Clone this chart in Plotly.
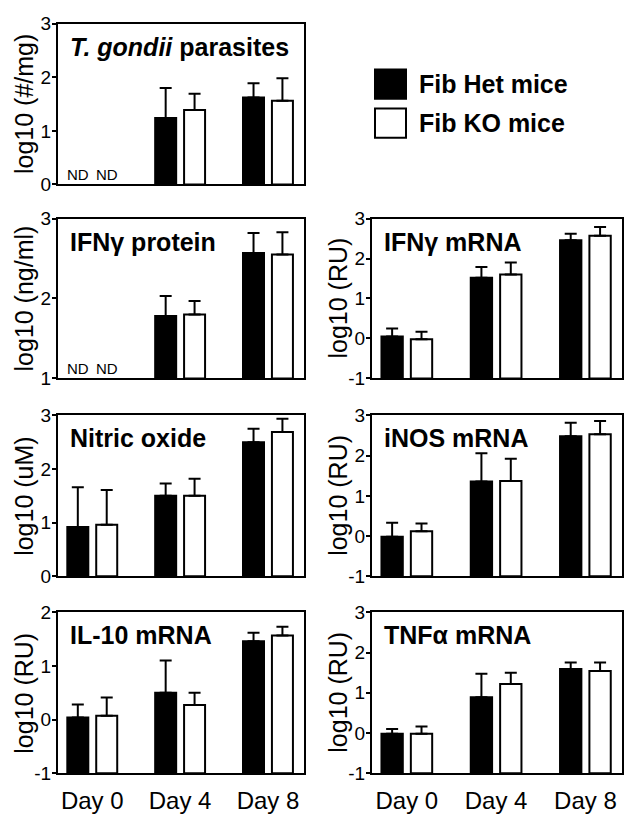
import plotly.graph_objects as go
from plotly.subplots import make_subplots

days = ["Day 0", "Day 4", "Day 8"]
groups = ["Fib Het mice", "Fib KO mice"]

# log10 means and upper error (SD); None = not detected (ND)
parasites_het = [None, 1.24, 1.62]
parasites_het_err = [None, 0.56, 0.27]
parasites_ko = [None, 1.39, 1.56]
parasites_ko_err = [None, 0.30, 0.42]

ifng_prot_het = [None, 1.78, 2.57]
ifng_prot_het_err = [None, 0.25, 0.25]
ifng_prot_ko = [None, 1.80, 2.55]
ifng_prot_ko_err = [None, 0.17, 0.28]

ifng_mrna_het = [0.05, 1.52, 2.46]
ifng_mrna_het_err = [0.20, 0.27, 0.16]
ifng_mrna_ko = [-0.02, 1.60, 2.57]
ifng_mrna_ko_err = [0.19, 0.30, 0.22]

no_het = [0.92, 1.50, 2.50]
no_het_err = [0.74, 0.23, 0.25]
no_ko = [0.96, 1.50, 2.69]
no_ko_err = [0.65, 0.32, 0.25]

inos_het = [-0.02, 1.36, 2.48]
inos_het_err = [0.35, 0.70, 0.34]
inos_ko = [0.12, 1.37, 2.53]
inos_ko_err = [0.19, 0.55, 0.33]

il10_het = [0.04, 0.50, 1.46]
il10_het_err = [0.24, 0.60, 0.16]
il10_ko = [0.07, 0.27, 1.57]
il10_ko_err = [0.34, 0.23, 0.16]

tnfa_het = [-0.02, 0.89, 1.59]
tnfa_het_err = [0.12, 0.58, 0.16]
tnfa_ko = [-0.02, 1.22, 1.54]
tnfa_ko_err = [0.18, 0.28, 0.21]

panels = [
    # row, col, title, y title, y range, het, het err, ko, ko err
    (1, 1, "<i>T. gondii</i> parasites", "log10 (#/mg)", [0, 3],
     parasites_het, parasites_het_err, parasites_ko, parasites_ko_err),
    (2, 1, "IFNγ protein", "log10 (ng/ml)", [1, 3],
     ifng_prot_het, ifng_prot_het_err, ifng_prot_ko, ifng_prot_ko_err),
    (2, 2, "IFNγ mRNA", "log10 (RU)", [-1, 3],
     ifng_mrna_het, ifng_mrna_het_err, ifng_mrna_ko, ifng_mrna_ko_err),
    (3, 1, "Nitric oxide", "log10 (uM)", [0, 3],
     no_het, no_het_err, no_ko, no_ko_err),
    (3, 2, "iNOS mRNA", "log10 (RU)", [-1, 3],
     inos_het, inos_het_err, inos_ko, inos_ko_err),
    (4, 1, "IL-10 mRNA", "log10 (RU)", [-1, 2],
     il10_het, il10_het_err, il10_ko, il10_ko_err),
    (4, 2, "TNFα mRNA", "log10 (RU)", [-1, 3],
     tnfa_het, tnfa_het_err, tnfa_ko, tnfa_ko_err),
]

W, H = 636, 828


def px(x):
    return x / W


def py(y):
    return 1 - y / H


x_dom = {1: [px(58), px(304)], 2: [px(372), px(622)]}
y_dom = {1: [py(179), py(14)], 2: [py(378), py(214)],
         3: [py(581), py(416)], 4: [py(783), py(618)]}

bar_w = 0.239
offsets = [-0.284, 0.045]
fills = ["black", "white"]
font = "Liberation Sans, Arial, sans-serif"

fig = make_subplots(rows=4, cols=2)
xpos = list(range(len(days)))

for row, col, title, ytitle, yr, het, het_err, ko, ko_err in panels:
    base = yr[0]
    idx = (row - 1) * 2 + col
    xr = "x" if idx == 1 else f"x{idx}"
    yref = "y" if idx == 1 else f"y{idx}"
    for g, (vals, errs) in enumerate([(het, het_err), (ko, ko_err)]):
        fig.add_trace(go.Bar(
            x=xpos,
            y=[None if v is None else v - base for v in vals],
            base=base,
            offset=offsets[g], width=bar_w,
            marker=dict(color=fills[g], line=dict(color="black", width=2)),
            error_y=dict(type="data", array=[0 if e is None else e for e in errs],
                         arrayminus=[0] * len(errs), symmetric=False,
                         color="black", thickness=2, width=6),
            name=groups[g], showlegend=False,
        ), row=row, col=col)
        for i, v in enumerate(vals):
            if v is None:
                fig.add_annotation(text="ND", xref=xr, yref=yref,
                                   x=i + offsets[g] + bar_w / 2, y=base, yshift=10,
                                   xanchor="center", yanchor="middle", showarrow=False,
                                   font=dict(size=15, color="black", family=font))

    ticks = list(range(yr[0], yr[1] + 1))
    fig.update_xaxes(domain=x_dom[col], range=[-0.39, 2.41], row=row, col=col,
                     showline=True, linecolor="black", linewidth=2, mirror=True,
                     showgrid=False, zeroline=False, ticks="",
                     tickvals=xpos, ticktext=days, showticklabels=(row == 4),
                     ticklabelstandoff=5,
                     tickfont=dict(size=24, color="black", family=font))
    fig.update_yaxes(domain=y_dom[row], range=yr, row=row, col=col,
                     tickvals=ticks, ticktext=[str(t) for t in ticks],
                     showline=True, linecolor="black", linewidth=2, mirror=True,
                     showgrid=False, zeroline=False, ticks="outside", ticklen=4,
                     tickwidth=2, tickcolor="black", ticklabelstandoff=-3,
                     tickfont=dict(size=19, color="black", family=font))

    fig.add_annotation(text=f"<b>{title}</b>", xref=f"{xr} domain", yref=f"{yref} domain",
                       x=0, y=1, xshift=10, yshift=-23, xanchor="left", yanchor="middle",
                       showarrow=False, font=dict(size=25, color="black", family=font))
    fig.add_annotation(text=ytitle, xref=f"{xr} domain", yref=f"{yref} domain",
                       x=0, y=0.5, xshift=-34, xanchor="center", yanchor="middle",
                       textangle=-90, showarrow=False,
                       font=dict(size=25, color="black", family=font))

# legend drawn by hand: large swatches as in the figure
for g, (top, fill) in enumerate([(61, "black"), (101, "white")]):
    fig.add_shape(type="rect", xref="paper", yref="paper",
                  x0=px(375), x1=px(406), y0=py(top + 30), y1=py(top),
                  fillcolor=fill, line=dict(color="black", width=2))
    fig.add_annotation(text=f"<b>{groups[g]}</b>", xref="paper", yref="paper",
                       x=px(417), y=py(top + 15), xanchor="left", yanchor="middle",
                       showarrow=False, font=dict(size=25, color="black", family=font))

fig.update_layout(
    width=W, height=H, margin=dict(l=0, r=0, t=0, b=0),
    paper_bgcolor="white", plot_bgcolor="white",
    barmode="overlay", showlegend=False,
)

# drop the default page margin so the figure fills the window exactly
fig.write_html("out.html", config={"displayModeBar": False},
               post_script="document.body.style.margin='0';document.body.style.overflow='hidden';")
